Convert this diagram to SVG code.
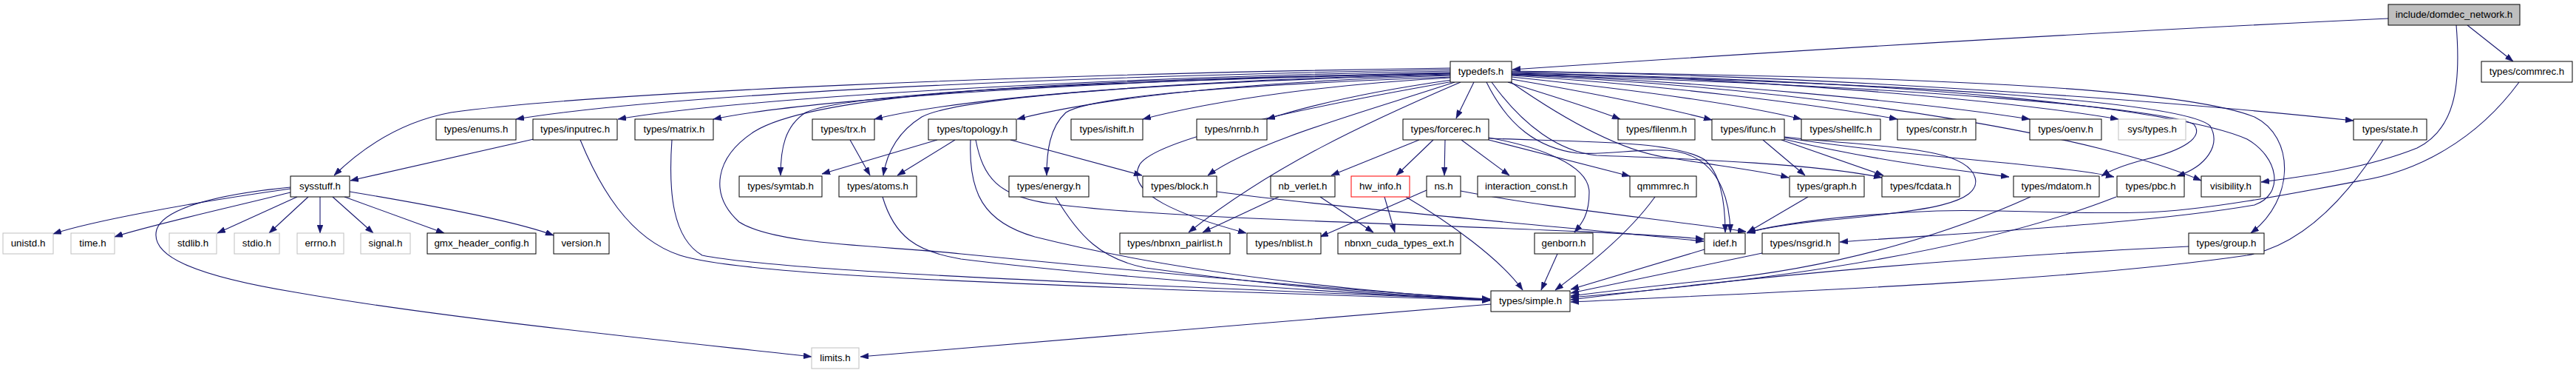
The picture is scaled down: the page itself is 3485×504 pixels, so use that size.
<svg xmlns="http://www.w3.org/2000/svg" width="3485" height="504" viewBox="0 0 3485 504">
<style>
.n rect{fill:#fff;stroke:#000;stroke-width:1}
.g rect{fill:#fff;stroke:#bfbfbf;stroke-width:1}
.r rect{fill:#fff;stroke:#ff0000;stroke-width:1}
.root rect{fill:#bfbfbf;stroke:#000;stroke-width:1}
text{font-family:"Liberation Sans",Arial,Helvetica,sans-serif;font-size:13.33px;fill:#000;text-anchor:middle}
#edges path{fill:none;stroke:#191970;stroke-width:1.1;marker-end:url(#ah)}
</style>
<defs>
<marker id="ah" markerUnits="userSpaceOnUse" markerWidth="11" markerHeight="8" refX="11" refY="4" orient="auto">
<path d="M0,0 L11,4 L0,8 z" fill="#191970" stroke="#191970" stroke-width="0.5"/>
</marker>
</defs>
<rect width="3485" height="504" fill="#fff"/>
<g id="edges">
<path d="M3231,25 C2800,45 2400,70 2046,94"/>
<path d="M3338,34 L3400,83"/>
<path d="M3323,34 C3330,120 3320,175 3270,200 C3200,228 3120,238 3059,246"/>
<path d="M3408,111 C3350,190 3270,232 3194,244 C3100,262 2980,285 2900,287 C2780,290 2700,282 2620,285 C2500,290 2420,300 2364,314"/>
<path d="M1962,92 C1400,100 800,125 610,152 C540,165 490,200 452,237"/>
<path d="M1962,94 C1400,104 900,128 698,161"/>
<path d="M1962,96 C1450,106 1000,133 836,161"/>
<path d="M1962,98 C1500,108 1100,133 965,161"/>
<path d="M1962,99 C1500,110 1150,124 1090,152 C1062,170 1056,200 1056,237"/>
<path d="M1962,101 C1600,110 1300,130 1247,158 C1215,178 1200,205 1195,237"/>
<path d="M1962,100 C1600,108 1300,132 1183,161"/>
<path d="M1962,102 C1700,110 1500,130 1376,161"/>
<path d="M1962,104 C1700,114 1480,128 1442,152 C1420,172 1416,205 1416,237"/>
<path d="M1962,105 C1800,114 1650,134 1546,161"/>
<path d="M1964,108 C1850,124 1770,143 1714,161"/>
<path d="M1968,111 C1850,150 1700,190 1634,237"/>
<path d="M1966,110 C1750,148 1565,188 1542,222 C1520,262 1600,292 1686,315"/>
<path d="M1976,111 C1850,165 1720,225 1608,314"/>
<path d="M1962,99 C1400,108 1100,128 1020,178 C968,212 958,262 1000,300 C1050,332 1200,332 1300,343 C1600,372 1850,395 2016,404"/>
<path d="M1994,111 L1970,160"/>
<path d="M2040,111 C2100,130 2150,145 2192,161"/>
<path d="M2045,107 C2150,125 2250,145 2316,162"/>
<path d="M2045,104 C2200,120 2350,140 2437,161"/>
<path d="M2045,102 C2250,115 2450,140 2567,161"/>
<path d="M2045,100 C2300,110 2600,138 2746,161"/>
<path d="M2045,98 C2350,105 2700,133 2866,161"/>
<path d="M2045,96 C2500,103 2950,138 3184,163"/>
<path d="M2045,97 C2600,103 2950,118 3050,158 C3105,185 3105,270 3045,315"/>
<path d="M2045,99 C2600,108 2950,148 3040,188 C3082,212 3092,262 3050,277 C2900,303 2650,315 2489,327"/>
<path d="M2045,101 C2500,122 2850,188 2978,244"/>
<path d="M2045,100 C2600,112 2955,138 2990,170 C3005,196 2985,225 2945,238"/>
<path d="M2045,101 C2600,116 2935,148 2968,168 C2982,185 2955,203 2900,216 C2870,224 2855,230 2843,238"/>
<path d="M2011,111 C2040,170 2080,200 2134,207 C2180,210 2230,198 2270,205 C2320,215 2340,260 2341,314"/>
<path d="M2044,111 C2100,150 2180,200 2250,212 C2330,225 2380,230 2420,240"/>
<path d="M2018,111 C2060,170 2110,205 2160,210 C2300,215 2460,222 2546,240"/>
<path d="M393,255 C250,275 120,300 72,316"/>
<path d="M393,260 C300,283 200,305 155,320"/>
<path d="M402,266 L294,315"/>
<path d="M417,266 L364,315"/>
<path d="M433,266 L433,315"/>
<path d="M450,266 L505,315"/>
<path d="M466,266 L601,315"/>
<path d="M473,259 C600,280 700,300 749,318"/>
<path d="M393,253 C300,262 222,280 212,310 C202,345 260,372 400,395 C600,430 900,460 1098,482"/>
<path d="M722,188 L474,244"/>
<path d="M785,189 C810,250 850,322 920,345 C1000,370 1300,380 1600,392 C1800,400 1950,404 2016,406"/>
<path d="M909,189 C904,260 910,322 950,345 C1050,365 1400,380 2016,405"/>
<path d="M1150,189 L1177,237"/>
<path d="M1268,189 L1112,235"/>
<path d="M1292,189 L1214,237"/>
<path d="M1367,189 L1545,237"/>
<path d="M1313,189 C1310,260 1330,300 1400,320 C1600,370 1850,395 2016,405"/>
<path d="M1320,189 C1330,240 1350,265 1420,275 C1600,300 2100,305 2305,323"/>
<path d="M1194,266 C1210,320 1240,340 1300,350 C1500,375 1800,395 2016,406"/>
<path d="M1428,266 C1460,320 1490,350 1550,362 C1750,390 1900,400 2016,405"/>
<path d="M1646,259 C1800,280 2100,305 2305,326"/>
<path d="M1920,189 L1801,237"/>
<path d="M1939,189 L1889,237"/>
<path d="M1955,189 L1954,237"/>
<path d="M1977,189 L2042,237"/>
<path d="M2014,189 L2205,238"/>
<path d="M2014,186 C2080,198 2150,222 2150,260 C2150,290 2140,302 2130,314"/>
<path d="M2014,187 C2150,192 2260,190 2305,215 C2330,235 2334,280 2334,314"/>
<path d="M1730,266 L1627,314"/>
<path d="M1786,266 L1858,314"/>
<path d="M1873,266 L1887,314"/>
<path d="M1902,266 C1960,300 2030,350 2060,392"/>
<path d="M1930,257 L1786,320"/>
<path d="M1976,258 C2100,282 2250,296 2362,313"/>
<path d="M2239,266 C2200,320 2140,365 2104,392"/>
<path d="M2107,343 L2085,392"/>
<path d="M2385,189 L2442,237"/>
<path d="M2410,189 L2548,237"/>
<path d="M2413,188 C2550,220 2650,230 2718,239"/>
<path d="M2413,186 C2600,214 2780,222 2860,239"/>
<path d="M2414,185 C2550,200 2660,198 2672,240 C2682,275 2600,285 2500,295 C2420,302 2385,308 2363,315"/>
<path d="M2446,266 L2364,314"/>
<path d="M2306,337 L2125,391"/>
<path d="M2384,342 C2300,360 2200,380 2125,396"/>
<path d="M2747,266 C2650,310 2500,360 2320,378 C2250,385 2180,393 2125,400"/>
<path d="M2863,266 C2700,330 2450,375 2125,402"/>
<path d="M2961,333 C2700,345 2400,370 2125,405"/>
<path d="M3224,189 C3180,260 3120,330 3040,345 C2800,380 2400,395 2125,408"/>
<path d="M2017,411 C1700,440 1400,465 1164,482"/>
</g>
<g id="node-domdec" class="root"><rect x="3231" y="6" width="178" height="28"/><text x="3320" y="24">include/domdec_network.h</text></g>
<g id="node-typedefs" class="n"><rect x="1962" y="83" width="83" height="28"/><text x="2003.5" y="101">typedefs.h</text></g>
<g id="node-commrec" class="n"><rect x="3357" y="83" width="123" height="28"/><text x="3418.5" y="101">types/commrec.h</text></g>
<g id="node-enums" class="n"><rect x="590" y="161" width="108" height="28"/><text x="644" y="179">types/enums.h</text></g>
<g id="node-inputrec" class="n"><rect x="721" y="161" width="114" height="28"/><text x="778" y="179">types/inputrec.h</text></g>
<g id="node-matrix" class="n"><rect x="859" y="161" width="106" height="28"/><text x="912" y="179">types/matrix.h</text></g>
<g id="node-trx" class="n"><rect x="1099" y="161" width="84" height="28"/><text x="1141" y="179">types/trx.h</text></g>
<g id="node-topology" class="n"><rect x="1256" y="161" width="119" height="28"/><text x="1315.5" y="179">types/topology.h</text></g>
<g id="node-ishift" class="n"><rect x="1449" y="161" width="97" height="28"/><text x="1497.5" y="179">types/ishift.h</text></g>
<g id="node-nrnb" class="n"><rect x="1619" y="161" width="95" height="28"/><text x="1666.5" y="179">types/nrnb.h</text></g>
<g id="node-forcerec" class="n"><rect x="1898" y="161" width="116" height="28"/><text x="1956" y="179">types/forcerec.h</text></g>
<g id="node-filenm" class="n"><rect x="2189" y="161" width="104" height="28"/><text x="2241" y="179">types/filenm.h</text></g>
<g id="node-ifunc" class="n"><rect x="2316" y="161" width="98" height="28"/><text x="2365" y="179">types/ifunc.h</text></g>
<g id="node-shellfc" class="n"><rect x="2437" y="161" width="107" height="28"/><text x="2490.5" y="179">types/shellfc.h</text></g>
<g id="node-constr" class="n"><rect x="2567" y="161" width="106" height="28"/><text x="2620" y="179">types/constr.h</text></g>
<g id="node-oenv" class="n"><rect x="2746" y="161" width="97" height="28"/><text x="2794.5" y="179">types/oenv.h</text></g>
<g id="node-systypes" class="g"><rect x="2866" y="161" width="91" height="28"/><text x="2911.5" y="179">sys/types.h</text></g>
<g id="node-state" class="n"><rect x="3184" y="161" width="99" height="28"/><text x="3233.5" y="179">types/state.h</text></g>
<g id="node-sysstuff" class="n"><rect x="393" y="238" width="80" height="28"/><text x="433" y="256">sysstuff.h</text></g>
<g id="node-symtab" class="n"><rect x="1000" y="238" width="112" height="28"/><text x="1056" y="256">types/symtab.h</text></g>
<g id="node-atoms" class="n"><rect x="1135" y="238" width="105" height="28"/><text x="1187.5" y="256">types/atoms.h</text></g>
<g id="node-energy" class="n"><rect x="1365" y="238" width="108" height="28"/><text x="1419" y="256">types/energy.h</text></g>
<g id="node-block" class="n"><rect x="1546" y="238" width="100" height="28"/><text x="1596" y="256">types/block.h</text></g>
<g id="node-nbverlet" class="n"><rect x="1719" y="238" width="87" height="28"/><text x="1762.5" y="256">nb_verlet.h</text></g>
<g id="node-hwinfo" class="r"><rect x="1828" y="238" width="79" height="28"/><text x="1867.5" y="256">hw_info.h</text></g>
<g id="node-ns" class="n"><rect x="1930" y="238" width="46" height="28"/><text x="1953" y="256">ns.h</text></g>
<g id="node-interaction" class="n"><rect x="1999" y="238" width="132" height="28"/><text x="2065" y="256">interaction_const.h</text></g>
<g id="node-qmmm" class="n"><rect x="2205" y="238" width="90" height="28"/><text x="2250" y="256">qmmmrec.h</text></g>
<g id="node-graph" class="n"><rect x="2421" y="238" width="101" height="28"/><text x="2471.5" y="256">types/graph.h</text></g>
<g id="node-fcdata" class="n"><rect x="2546" y="238" width="105" height="28"/><text x="2598.5" y="256">types/fcdata.h</text></g>
<g id="node-mdatom" class="n"><rect x="2724" y="238" width="116" height="28"/><text x="2782" y="256">types/mdatom.h</text></g>
<g id="node-pbc" class="n"><rect x="2864" y="238" width="91" height="28"/><text x="2909.5" y="256">types/pbc.h</text></g>
<g id="node-visibility" class="n"><rect x="2978" y="238" width="80" height="28"/><text x="3018" y="256">visibility.h</text></g>
<g id="node-unistd" class="g"><rect x="4" y="315" width="68" height="28"/><text x="38" y="333">unistd.h</text></g>
<g id="node-time" class="g"><rect x="96" y="315" width="59" height="28"/><text x="125.5" y="333">time.h</text></g>
<g id="node-stdlib" class="g"><rect x="229" y="315" width="64" height="28"/><text x="261" y="333">stdlib.h</text></g>
<g id="node-stdio" class="g"><rect x="317" y="315" width="61" height="28"/><text x="347.5" y="333">stdio.h</text></g>
<g id="node-errno" class="g"><rect x="402" y="315" width="63" height="28"/><text x="433.5" y="333">errno.h</text></g>
<g id="node-signal" class="g"><rect x="488" y="315" width="67" height="28"/><text x="521.5" y="333">signal.h</text></g>
<g id="node-gmxhc" class="n"><rect x="578" y="315" width="147" height="28"/><text x="651.5" y="333">gmx_header_config.h</text></g>
<g id="node-version" class="n"><rect x="749" y="315" width="75" height="28"/><text x="786.5" y="333">version.h</text></g>
<g id="node-pairlist" class="n"><rect x="1515" y="315" width="149" height="28"/><text x="1589.5" y="333">types/nbnxn_pairlist.h</text></g>
<g id="node-nblist" class="n"><rect x="1687" y="315" width="100" height="28"/><text x="1737" y="333">types/nblist.h</text></g>
<g id="node-cudaext" class="n"><rect x="1810" y="315" width="166" height="28"/><text x="1893" y="333">nbnxn_cuda_types_ext.h</text></g>
<g id="node-genborn" class="n"><rect x="2076" y="315" width="79" height="28"/><text x="2115.5" y="333">genborn.h</text></g>
<g id="node-idef" class="n"><rect x="2306" y="315" width="55" height="28"/><text x="2333.5" y="333">idef.h</text></g>
<g id="node-nsgrid" class="n"><rect x="2384" y="315" width="104" height="28"/><text x="2436" y="333">types/nsgrid.h</text></g>
<g id="node-group" class="n"><rect x="2961" y="315" width="102" height="28"/><text x="3012" y="333">types/group.h</text></g>
<g id="node-simple" class="n"><rect x="2017" y="393" width="107" height="28"/><text x="2070.5" y="411">types/simple.h</text></g>
<g id="node-limits" class="g"><rect x="1098" y="470" width="64" height="28"/><text x="1130" y="488">limits.h</text></g>
</svg>
